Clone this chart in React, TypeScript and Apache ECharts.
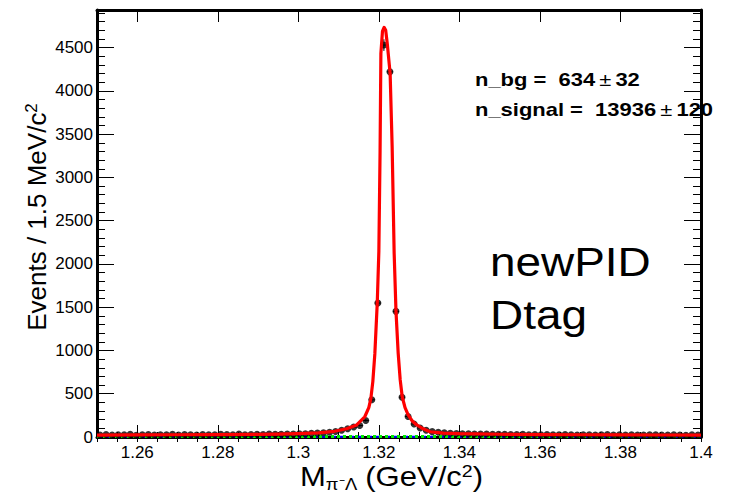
import React, { useEffect, useRef } from "react";
import * as echarts from "echarts";

// ---------- data ----------
const X_MIN = 1.25;
const X_MAX = 1.4;
const Y_MIN = 0;
const Y_MAX = 4935;
const BIN_WIDTH = 0.0015; // 1.5 MeV/c^2

// event counts per 1.5 MeV bin, 100 bins from 1.25 to 1.40
const BIN_COUNTS = [
  24, 28, 22, 27, 25, 30, 21, 26, 29, 23,
  27, 25, 31, 24, 28, 26, 22, 29, 27, 25,
  30, 28, 26, 33, 27, 29, 31, 28, 34, 30,
  32, 35, 33, 38, 36, 42, 45, 50, 55, 63,
  78, 95, 115, 133, 191, 430, 1548, 4530, 4220, 1452,
  460, 237, 150, 105, 78, 62, 55, 48, 44, 40,
  38, 36, 35, 33, 34, 31, 30, 32, 29, 28,
  30, 27, 29, 26, 28, 27, 25, 29, 26, 24,
  27, 25, 23, 26, 28, 24, 25, 22, 26, 24,
  23, 27, 25, 22, 24, 26, 23, 21, 25, 24,
];

// fitted total curve (red)
const FIT_X = [
  1.25, 1.26, 1.27, 1.28, 1.29, 1.295, 1.3, 1.305, 1.309, 1.312,
  1.3145, 1.3165, 1.3175, 1.318, 1.3185, 1.319, 1.3196, 1.32, 1.3203, 1.3205,
  1.3209, 1.3213, 1.3217, 1.3221, 1.3228, 1.3233, 1.3238, 1.32425, 1.3248, 1.3253,
  1.3258, 1.3265, 1.3273, 1.3283, 1.3294, 1.331, 1.3327, 1.336, 1.34, 1.35,
  1.36, 1.37, 1.38, 1.39, 1.4,
];
const FIT_Y = [
  22, 24, 26, 28, 31, 33, 38, 48, 66, 95,
  139, 234, 340, 440, 640, 960, 1550, 2150, 3300, 4430,
  4690, 4734, 4700, 4540, 4200, 3350, 2121, 1455, 966, 660,
  465, 340, 254, 185, 139, 95, 61, 45, 38, 32,
  28, 26, 24, 23, 22,
];

// background component (green dotted) and second component (blue dashed)
const BG_X = [1.25, 1.4];
const BG_Y = [6.5, 6.0];
const COMP_X = [1.25, 1.4];
const COMP_Y = [3, 3];

// axis ticks / labels
const X_MAJOR = [1.26, 1.28, 1.3, 1.32, 1.34, 1.36, 1.38, 1.4];
const X_MINOR_STEP = 0.005;
const Y_MAJOR_STEP = 500;
const Y_MINOR_STEP = 100;

// texts
const Y_TITLE = "Events / 1.5 MeV/c";
const X_TITLE_MAIN = "M";
const X_TITLE_SUB = "π⁻Λ";
const X_TITLE_UNIT = " (GeV/c";
const NBG_LABEL = "n_bg =  634";
const NBG_ERR = "32";
const NSIG_LABEL = "n_signal =  13936";
const NSIG_ERR = "120";
const TAG_LINES = ["newPID", "Dtag"];

const FONT = '"Liberation Sans", Arial, Helvetica, sans-serif';

export default function App() {
  const ref = useRef<HTMLDivElement>(null);

  useEffect(() => {
    document.body.style.margin = "0";
    if (!ref.current) return;
    const chart = echarts.init(ref.current, undefined, { renderer: "svg" });

    const points = BIN_COUNTS.map((c, i) => [X_MIN + (i + 0.5) * BIN_WIDTH, c]);
    const fit = FIT_X.map((x, i) => [x, FIT_Y[i]]);
    const bg = BG_X.map((x, i) => [x, BG_Y[i]]);
    const comp = COMP_X.map((x, i) => [x, COMP_Y[i]]);

    const hiddenLabel = { show: false };
    const noLine = { show: false };
    const frameLine = { show: true, onZero: false, lineStyle: { color: "#000", width: 3 } };
    const tickStyle = { color: "#000", width: 1 };

    const option: any = {
      animation: false,
      backgroundColor: "#fff",
      grid: {
        left: 97,
        right: 42,
        top: 10,
        bottom: 66,
        show: false,
      },
      xAxis: [
        {
          type: "value",
          min: X_MIN,
          max: X_MAX,
          position: "bottom",
          axisLine: frameLine,
          splitLine: { show: false },
          axisTick: { show: true, inside: true, length: 12, lineStyle: tickStyle, customValues: X_MAJOR },
          axisLabel: {
            show: true,
            customValues: X_MAJOR,
            formatter: (v: number) => String(parseFloat(v.toFixed(2))),
            color: "#000",
            fontFamily: FONT,
            fontSize: 17,
            margin: 7,
          },
        },
        {
          type: "value",
          min: X_MIN,
          max: X_MAX,
          interval: X_MINOR_STEP,
          position: "bottom",
          axisLine: noLine,
          splitLine: { show: false },
          axisTick: { show: true, inside: true, length: 5, lineStyle: tickStyle },
          axisLabel: hiddenLabel,
        },
        {
          type: "value",
          min: X_MIN,
          max: X_MAX,
          position: "top",
          axisLine: frameLine,
          splitLine: { show: false },
          axisTick: { show: true, inside: true, length: 12, lineStyle: tickStyle, customValues: X_MAJOR },
          axisLabel: hiddenLabel,
        },
        {
          type: "value",
          min: X_MIN,
          max: X_MAX,
          interval: X_MINOR_STEP,
          position: "top",
          axisLine: noLine,
          splitLine: { show: false },
          axisTick: { show: true, inside: true, length: 5, lineStyle: tickStyle },
          axisLabel: hiddenLabel,
        },
      ],
      yAxis: [
        {
          type: "value",
          min: Y_MIN,
          max: Y_MAX,
          interval: Y_MAJOR_STEP,
          position: "left",
          axisLine: frameLine,
          splitLine: { show: false },
          axisTick: { show: true, inside: true, length: 17, lineStyle: tickStyle },
          axisLabel: {
            show: true,
            color: "#000",
            fontFamily: FONT,
            fontSize: 17,
            margin: 4,
            formatter: (v: number) => (v % Y_MAJOR_STEP === 0 ? String(v) : ""),
          },
        },
        {
          type: "value",
          min: Y_MIN,
          max: Y_MAX,
          interval: Y_MINOR_STEP,
          position: "left",
          axisLine: noLine,
          splitLine: { show: false },
          axisTick: { show: true, inside: true, length: 8, lineStyle: tickStyle },
          axisLabel: hiddenLabel,
        },
        {
          type: "value",
          min: Y_MIN,
          max: Y_MAX,
          interval: Y_MAJOR_STEP,
          position: "right",
          axisLine: frameLine,
          splitLine: { show: false },
          axisTick: { show: true, inside: true, length: 17, lineStyle: tickStyle },
          axisLabel: hiddenLabel,
        },
        {
          type: "value",
          min: Y_MIN,
          max: Y_MAX,
          interval: Y_MINOR_STEP,
          position: "right",
          axisLine: noLine,
          splitLine: { show: false },
          axisTick: { show: true, inside: true, length: 8, lineStyle: tickStyle },
          axisLabel: hiddenLabel,
        },
      ],
      series: [
        {
          name: "component",
          type: "line",
          data: comp,
          showSymbol: false,
          lineStyle: { color: "#0000ff", width: 2, type: [5, 4] },
          z: 3,
        },
        {
          name: "background",
          type: "line",
          data: bg,
          showSymbol: false,
          lineStyle: { color: "#00ee00", width: 3, type: [3, 3] },
          z: 4,
        },
        {
          name: "errors",
          type: "custom",
          data: points,
          encode: { x: 0, y: 1 },
          z: 5,
          renderItem: (params: any, api: any) => {
            const x = api.value(0);
            const y = api.value(1);
            const e = Math.sqrt(y);
            const l = api.coord([x - BIN_WIDTH / 2, y]);
            const r = api.coord([x + BIN_WIDTH / 2, y]);
            const t = api.coord([x, y + e]);
            const b = api.coord([x, Math.max(0, y - e)]);
            const st = { stroke: "#000", lineWidth: 1 };
            return {
              type: "group",
              children: [
                { type: "line", shape: { x1: l[0], y1: l[1], x2: r[0], y2: r[1] }, style: st },
                { type: "line", shape: { x1: t[0], y1: t[1], x2: b[0], y2: b[1] }, style: st },
              ],
            };
          },
        },
        {
          name: "data",
          type: "scatter",
          data: points,
          symbol: "circle",
          symbolSize: 7,
          itemStyle: { color: "#000" },
          z: 6,
        },
        {
          name: "fit",
          type: "line",
          data: fit,
          showSymbol: false,
          smooth: false,
          lineStyle: { color: "#ff0000", width: 3.2, join: "round" },
          z: 7,
        },
      ],
      graphic: [
        {
          type: "text",
          x: 37,
          y: 217,
          rotation: Math.PI / 2,
          style: {
            text: `{t|${Y_TITLE}}{p|2}`,
            align: "center",
            verticalAlign: "middle",
            rich: {
              t: { fontFamily: FONT, fontSize: 26, color: "#000", lineHeight: 30 },
              p: { fontFamily: FONT, fontSize: 17, color: "#000", padding: [0, 0, 12, 0] },
            },
          },
        },
        {
          type: "text",
          x: 300,
          y: 477,
          scaleX: 1.15,
          style: {
            text: `{t|${X_TITLE_MAIN}}{s|${X_TITLE_SUB}}{t|${X_TITLE_UNIT}}{p|2}{t|)}`,
            align: "left",
            verticalAlign: "middle",
            rich: {
              t: { fontFamily: FONT, fontSize: 27, color: "#000", lineHeight: 32 },
              s: { fontFamily: FONT, fontSize: 16, color: "#000", padding: [15, 0, 0, 0] },
              p: { fontFamily: FONT, fontSize: 17, color: "#000", padding: [0, 0, 13, 0] },
            },
          },
        },
        {
          type: "text",
          x: 475,
          y: 80,
          scaleX: 1.22,
          style: {
            text: `{b|${NBG_LABEL}} {n|±} {b|${NBG_ERR}}`,
            align: "left",
            verticalAlign: "middle",
            rich: {
              b: { fontFamily: FONT, fontSize: 18, fontWeight: "bold", color: "#000" },
              n: { fontFamily: FONT, fontSize: 18, color: "#000" },
            },
          },
        },
        {
          type: "text",
          x: 475,
          y: 110,
          scaleX: 1.22,
          style: {
            text: `{b|${NSIG_LABEL}} {n|±} {b|${NSIG_ERR}}`,
            align: "left",
            verticalAlign: "middle",
            rich: {
              b: { fontFamily: FONT, fontSize: 18, fontWeight: "bold", color: "#000" },
              n: { fontFamily: FONT, fontSize: 18, color: "#000" },
            },
          },
        },
        {
          type: "text",
          x: 490,
          y: 262,
          scaleX: 1.12,
          style: {
            text: TAG_LINES[0],
            font: `41px ${FONT}`,
            fill: "#000",
            align: "left",
            verticalAlign: "middle",
          },
        },
        {
          type: "text",
          x: 490,
          y: 315,
          scaleX: 1.12,
          style: {
            text: TAG_LINES[1],
            font: `41px ${FONT}`,
            fill: "#000",
            align: "left",
            verticalAlign: "middle",
          },
        },
      ],
    };

    chart.setOption(option);
    return () => chart.dispose();
  }, []);

  return <div ref={ref} style={{ width: 743, height: 503 }} />;
}
